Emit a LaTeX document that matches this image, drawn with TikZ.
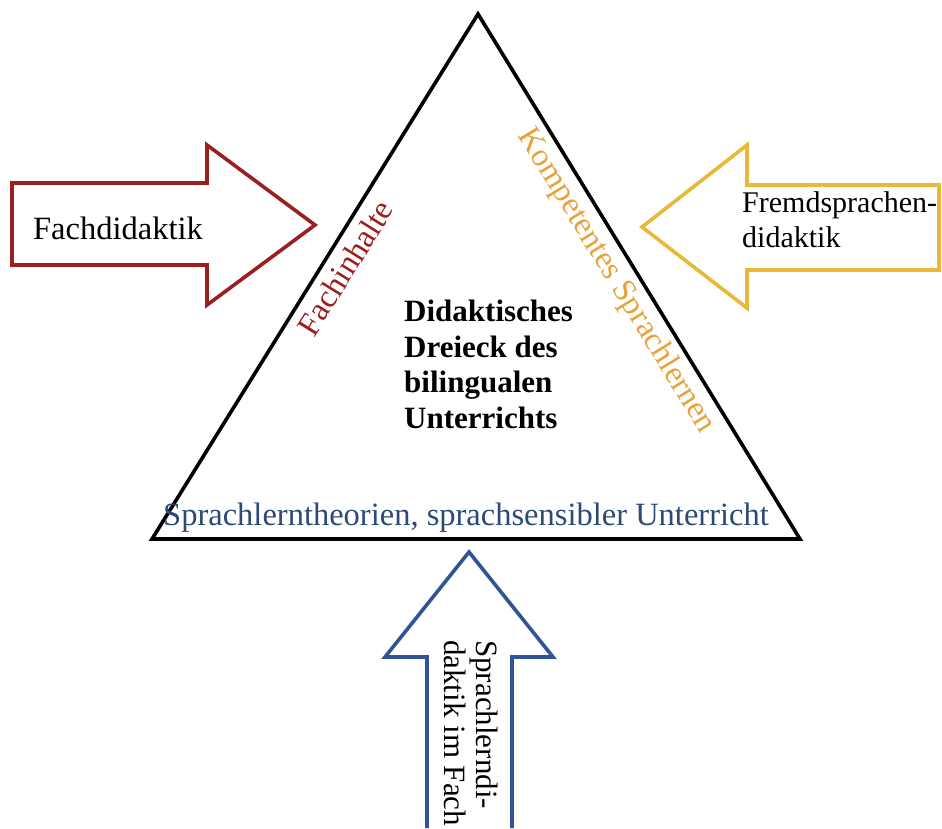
\documentclass[tikz,border=0pt]{standalone}
\usepackage{fontspec}
\setmainfont{Liberation Serif}
\definecolor{redA}{HTML}{9B1F1F}
\definecolor{yelA}{HTML}{E8B838}
\definecolor{oraT}{HTML}{E8A23C}
\definecolor{bluA}{HTML}{2F5597}
\definecolor{bluT}{HTML}{2C4A78}
\tikzset{
  shape line/.style={line width=3.6pt, line join=miter},
  txt/.style={font=\fontsize{32.5}{36}\selectfont, inner sep=0pt},
}
\begin{document}
\begin{tikzpicture}[x=1pt,y=-1pt]
\useasboundingbox (0,0) rectangle (942,828);
% triangle
\draw[shape line, black] (478,14) -- (800,539) -- (152,539) -- cycle;
% red arrow
\draw[shape line, redA] (12,183) -- (207,183) -- (207,145) -- (315,225) -- (207,305) -- (207,265) -- (12,265) -- cycle;
% yellow arrow
\draw[shape line, yelA] (939,185) -- (747,185) -- (747,145) -- (642,227) -- (747,308) -- (747,270) -- (939,270) -- cycle;
% blue arrow
\draw[shape line, bluA] (427,828) -- (427,657) -- (385,657) -- (469,552) -- (553,657) -- (512,657) -- (512,828);
% texts
\node[txt, anchor=center] (fd) at (118,228) {Fachdidaktik};
\node[txt, anchor=north west, align=left, font=\fontsize{30}{35}\selectfont] (fs) at (742,191) {Fremdsprachen-\\didaktik};
\node[txt, anchor=north west, align=left, font=\fontsize{31}{35.5}\selectfont\bfseries] (dd) at (404,300) {Didaktisches\\Dreieck des\\bilingualen\\Unterrichts};
\node[txt, text=bluT] (st) at (466,518) {Sprachlerntheorien, sprachsensibler Unterricht};
\node[txt, text=redA, rotate=58] (fi) at (345,268) {Fachinhalte};
\node[txt, text=oraT, rotate=-58.5] (ks) at (616,281) {Kompetentes Sprachlernen};
\node[txt, text=black, rotate=-90, anchor=north west, align=left, font=\fontsize{31}{31.5}\selectfont] (sd) at (498,640) {Sprachlerndi-\\daktik im Fach};
\end{tikzpicture}
\end{document}
